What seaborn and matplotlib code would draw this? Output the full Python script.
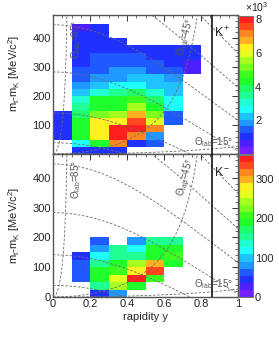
import colorsys
import numpy as np
import pandas as pd
import matplotlib
matplotlib.use("Agg")
import matplotlib.pyplot as plt
from matplotlib.colors import ListedColormap
from matplotlib.ticker import MultipleLocator, FixedLocator, FuncFormatter
import seaborn as sns

sns.set_theme(style="white")
plt.rcParams['font.family'] = ['Liberation Sans', 'DejaVu Sans']
plt.rcParams['mathtext.fontset'] = 'custom'
plt.rcParams['mathtext.rm'] = 'Liberation Sans'
plt.rcParams['mathtext.it'] = 'Liberation Sans:italic'

# ---------------- data ----------------
# rapidity bin edges and mt-m bin edges (MeV)
rap_edges = [0.0, 0.1, 0.2, 0.3, 0.4, 0.5, 0.6, 0.7, 0.8]
mt_edges = [0, 25, 50, 75, 100, 125, 150, 175, 200, 225, 250, 275, 300,
            325, 350, 375, 400, 425, 450]

# K+ yields per rapidity column, rows from mt-m = 0 upwards (25 MeV bins)
kp_y00 = [0, 0, 1000, 1150, 1150, 1050, 0, 0, 0, 0, 0, 0, 0, 0, 0, 0, 0, 0]
kp_y01 = [1100, 2500, 4300, 4500, 4400, 4000, 3300, 3000, 2400, 1800, 1500, 1300, 1200, 1100, 1000, 950, 900, 800]
kp_y02 = [1000, 4300, 6300, 6400, 6200, 5300, 4500, 4200, 3200, 2300, 1900, 1600, 1400, 1300, 1200, 1100, 1000, 900]
kp_y03 = [1000, 7300, 8000, 8150, 6400, 5600, 4500, 4300, 3300, 2600, 2000, 1800, 1600, 1400, 1200, 1000, 0, 0]
kp_y04 = [0, 1200, 7100, 7900, 7600, 6900, 5500, 4900, 3900, 2700, 2300, 1800, 1500, 1300, 1100, 0, 0, 0]
kp_y05 = [0, 1400, 2000, 7000, 5800, 5300, 4400, 3900, 3000, 2400, 2100, 1600, 1300, 1100, 1000, 0, 0, 0]
kp_y06 = [0, 0, 0, 0, 1300, 1500, 2500, 2600, 2400, 2200, 1800, 1400, 1200, 1100, 1000, 0, 0, 0]
kp_y07 = [0, 0, 0, 0, 0, 0, 0, 0, 0, 0, 0, 700, 800, 900, 900, 0, 0, 0]

# K- yields
km_y00 = [0, 0, 0, 0, 0, 0, 0, 0]
km_y01 = [0, 0, 55, 60, 58, 50, 0, 0]
km_y02 = [50, 150, 190, 195, 145, 120, 80, 55]
km_y03 = [85, 235, 265, 200, 190, 150, 145, 0]
km_y04 = [0, 190, 352, 280, 240, 160, 115, 85]
km_y05 = [0, 0, 200, 325, 300, 190, 185, 150]
km_y06 = [0, 0, 0, 0, 190, 200, 185, 145]
km_y07 = [0, 0, 0, 0, 0, 0, 0, 0]

kp_zmax = 8200
km_zmax = 360

# reference curves
kaon_mass = 493.7          # MeV/c^2
y_cm = 0.86
theta_lab = [15, 45, 85]    # degrees
p_lab = [200, 400, 600, 800, 1000, 1200, 1400]   # MeV/c

x_ticks = [0, 0.2, 0.4, 0.6, 0.8, 1.0]
y_ticks = [0, 100, 200, 300, 400]
kp_cbar_ticks = [2000, 4000, 6000, 8000]
km_cbar_ticks = [0, 100, 200, 300]


def to_frame(cols):
    recs = []
    for i, col in enumerate(cols):
        xc = 0.5 * (rap_edges[i] + rap_edges[i + 1])
        for j, w in enumerate(col):
            if w > 0:
                yc = 0.5 * (mt_edges[j] + mt_edges[j + 1])
                recs.append((xc, yc, w))
    return pd.DataFrame(recs, columns=["rapidity", "mt", "w"])


kp_df = to_frame([kp_y00, kp_y01, kp_y02, kp_y03, kp_y04, kp_y05, kp_y06, kp_y07])
km_df = to_frame([km_y00, km_y01, km_y02, km_y03, km_y04, km_y05, km_y06, km_y07])


def root_palette(n_levels=20, white_mix=0.12):
    cols = []
    for j in range(n_levels):
        i = int((j + 0.99) * 50 / n_levels)
        if i >= 49:
            rgb = (1.0, 0.0, 0.0)
        else:
            hue = 280 - (i + 1) * (280 / 50)
            rgb = colorsys.hls_to_rgb(hue / 360.0, 0.5, 1.0)
        cols.append(tuple(c * (1 - white_mix) + white_mix for c in rgb))
    return ListedColormap(cols)


cmap = root_palette(20)

W, H = 279, 337
fig = plt.figure(figsize=(W / 100, H / 100), dpi=100)


def rect(l, t, r, b):
    return [l / W, 1 - b / H, (r - l) / W, (b - t) / H]


ax1 = fig.add_axes(rect(53, 15, 238, 154))
ax2 = fig.add_axes(rect(53, 154, 238, 297))
cax1 = fig.add_axes(rect(239, 16, 253, 154))
cax2 = fig.add_axes(rect(239, 155, 253, 297))

line_col = '#6a6a6a'
fs = 8

for ax, df, zmax, cax, cticks, name in [
        (ax1, kp_df, kp_zmax, cax1, kp_cbar_ticks, r"K$^+$"),
        (ax2, km_df, km_zmax, cax2, km_cbar_ticks, r"K$^-$")]:
    sns.histplot(data=df, x="rapidity", y="mt", weights="w",
                 bins=[rap_edges, mt_edges], cmap=cmap, ax=ax, cbar=False)
    mesh = ax.collections[-1]
    mesh.set_clim(0, zmax)
    mesh.set_zorder(1)

    # iso-momentum lines
    m = kaon_mass / 1000.0
    for p in p_lab:
        pg = p / 1000.0
        yy = np.linspace(0, min(np.arcsinh(pg / m), 1.2), 300)
        pt2 = np.clip(pg ** 2 - m ** 2 * np.sinh(yy) ** 2, 0, None) / np.cosh(yy) ** 2
        mt = (np.sqrt(pt2 + m ** 2) - m) * 1000
        ax.plot(yy, mt, ls=(0, (3, 2)), color=line_col, lw=0.6, zorder=3)
    # iso-angle lines
    for th in theta_lab:
        pt = np.linspace(0, 1.2, 400)
        mtv = np.sqrt(pt ** 2 + m ** 2)
        yy = np.arcsinh(pt / (mtv * np.tan(np.radians(th))))
        ax.plot(yy, (mtv - m) * 1000, ls=(0, (3, 2)), color=line_col, lw=0.6, zorder=3)

    ax.axvline(y_cm, color='black', lw=1.1, zorder=4)

    ax.set_xlim(0, 1)
    ax.set_ylim(0, 480)
    ax.xaxis.set_major_locator(FixedLocator(x_ticks))
    ax.xaxis.set_minor_locator(MultipleLocator(0.05))
    ax.yaxis.set_major_locator(FixedLocator(y_ticks))
    ax.yaxis.set_minor_locator(MultipleLocator(20))
    ax.xaxis.set_major_formatter(FuncFormatter(lambda v, p: f"{v:g}"))
    ax.tick_params(which='major', direction='in', length=4, width=0.7,
                   top=True, right=True, labelsize=fs, pad=1.5, color='#333333')
    ax.tick_params(which='minor', direction='in', length=2, width=0.5,
                   top=True, right=True, color='#333333')
    for s in ax.spines.values():
        s.set_color('#555555')
        s.set_linewidth(1.0)
    ax.set_ylabel(r"m$_{\rm t}$-m$_{\rm K}$ [MeV/c$^2$]", fontsize=fs, labelpad=2)
    ax.set_xlabel("")

    ax.text(0.915, 418, name, fontsize=fs + 1, ha='center', va='center', zorder=5)
    ax.text(0.125, 395, r"$\Theta_{\rm lab}$=85°", rotation=90, fontsize=fs - 1,
            color='#555555', ha='center', va='center', zorder=5)
    ax.text(0.713, 402, r"$\Theta_{\rm lab}$=45°", rotation=75, fontsize=fs - 1,
            color='#555555', ha='center', va='center', zorder=5)
    ax.text(0.865, 42, r"$\Theta_{\rm lab}$=15°", rotation=0, fontsize=fs - 1,
            color='#555555', ha='center', va='center', zorder=5)

    cb = fig.colorbar(mesh, cax=cax)
    cb.outline.set_edgecolor('#777777')
    cb.outline.set_linewidth(0.8)
    cb.set_ticks(cticks)
    cax.yaxis.set_minor_locator(MultipleLocator((cticks[1] - cticks[0]) / 4))
    cax.tick_params(which='major', direction='in', length=4, width=0.7, labelsize=fs, pad=1.5)
    cax.tick_params(which='minor', direction='in', length=2, width=0.5)

cax1.yaxis.set_major_formatter(FuncFormatter(lambda v, p: f"{v/1000:g}"))
fig.text(257 / W, 1 - 7 / H, r"$\times$10$^3$", fontsize=fs - 0.5, ha='center', va='center')

ax1.tick_params(labelbottom=False)
ax1.yaxis.set_major_formatter(FuncFormatter(lambda v, p: "" if v == 0 else f"{v:g}"))
ax1.yaxis.set_label_coords(-0.17, 0.58)
ax2.yaxis.set_label_coords(-0.17, 0.5)
ax2.set_xlabel("rapidity y", fontsize=fs, labelpad=2)

fig.savefig("out.png", dpi=100)
